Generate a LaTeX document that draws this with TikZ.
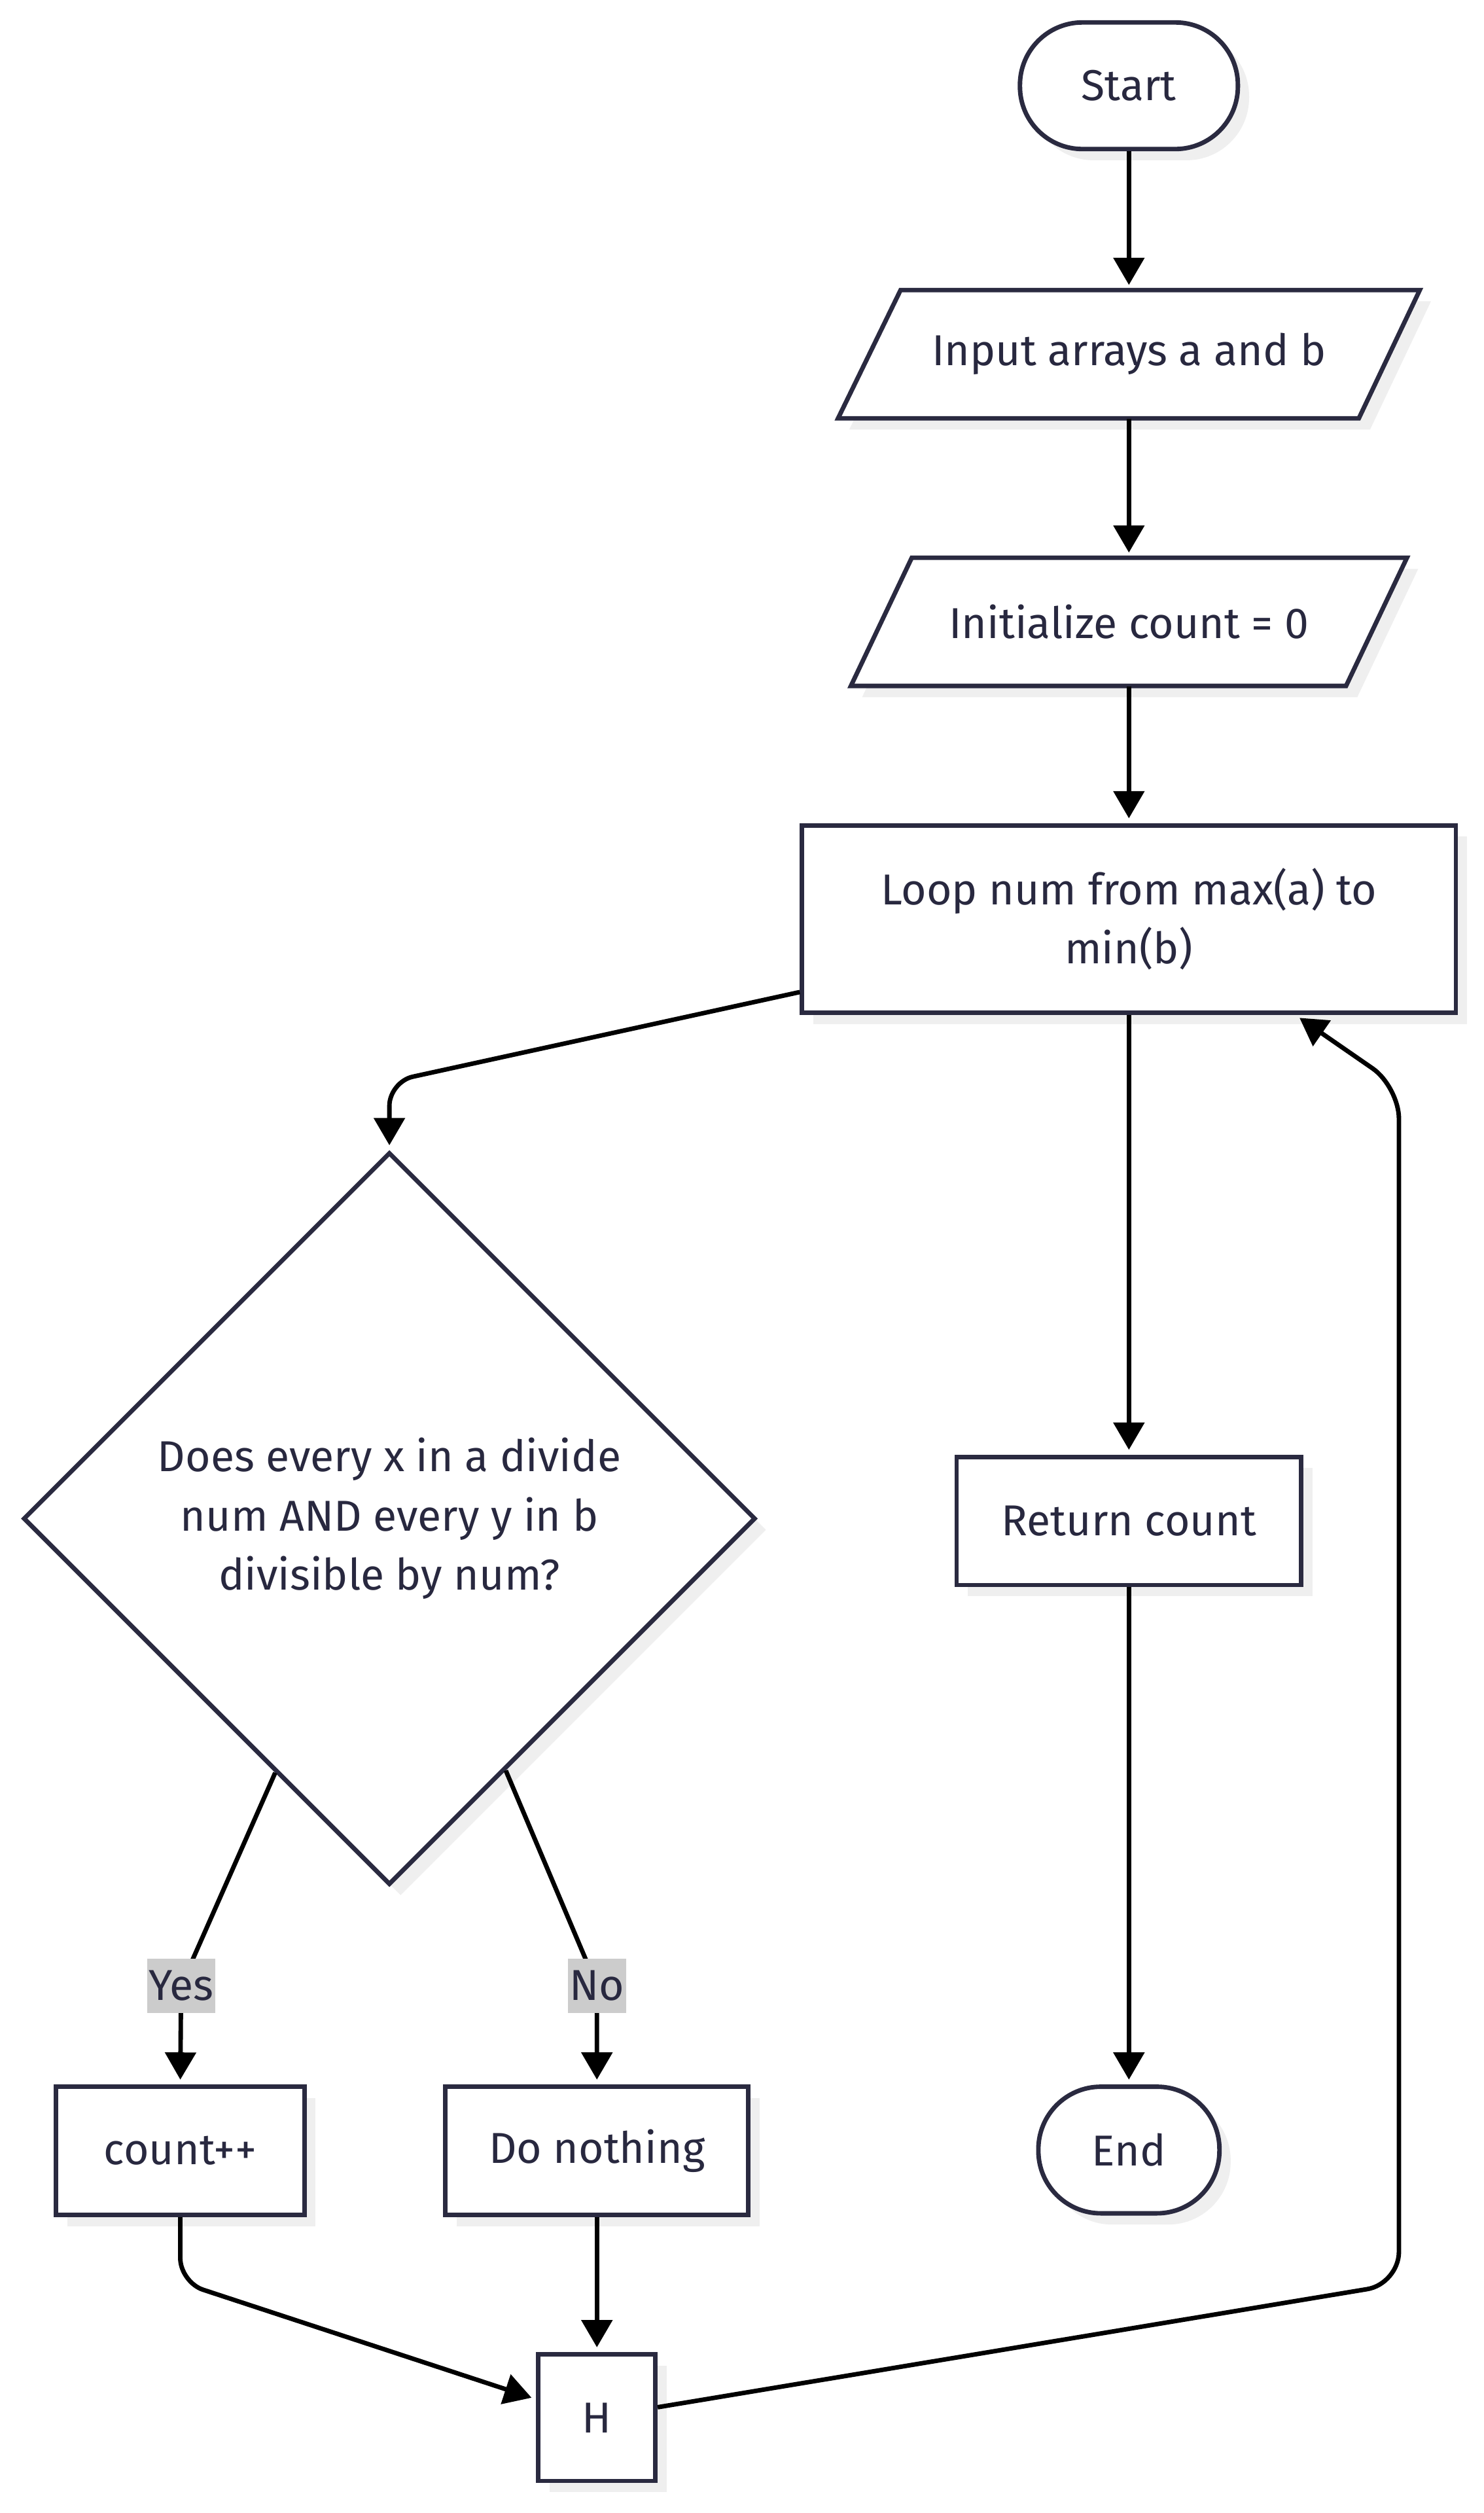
\documentclass[tikz,border=0pt]{standalone}
\usepackage{fontspec}
\setmainfont{Fira Sans}
\usetikzlibrary{arrows.meta,shadows,calc,shapes.geometric}
\definecolor{bord}{HTML}{2A2A40}
\definecolor{txt}{HTML}{28283F}
\definecolor{shad}{HTML}{EFEFEF}
\definecolor{lblgray}{HTML}{CCCCCC}
\begin{document}
\begin{tikzpicture}[x=1pt,y=-1pt,
  font=\fontsize{27}{37}\selectfont, text=txt,
  shadowed/.style={drop shadow={shadow xshift=7pt,shadow yshift=-7pt,fill=shad,opacity=1}},
  box/.style={draw=bord,line width=2.8pt,fill=white,inner sep=0pt,align=center,shadowed},
  term/.style={box,rounded corners=39pt,minimum height=79pt},
  para/.style={draw=bord,line width=2.8pt,fill=white,line join=miter},
  txtnode/.style={inner sep=0pt,align=center},
  arr/.style={draw=black,line width=2.8pt,-{Triangle[length=17pt,width=19pt]},shorten >=3pt},
  lbl/.style={fill=lblgray,sharp corners,inner xsep=1pt,inner ysep=0pt,minimum height=34pt,text=txt}
]
\useasboundingbox (0,0) rectangle (925.7,1568);
\fill[white] (0,0) rectangle (925.7,1568);

% Start
\node[term,minimum width=136pt] (start) at (704.5,53.5) {Start};

% Input parallelogram
\fill[shad,shift={(7,7)}] (523,261)--(562,181)--(886,181)--(848,261)--cycle;
\draw[para] (523,261)--(562,181)--(886,181)--(848,261)--cycle;
\node[txtnode,minimum width=300pt,minimum height=80pt] (inp) at (704.5,221) {Input arrays a and b};

% Initialize parallelogram
\fill[shad,shift={(7,7)}] (531,428)--(569,348)--(878,348)--(840,428)--cycle;
\draw[para] (531,428)--(569,348)--(878,348)--(840,428)--cycle;
\node[txtnode,minimum width=290pt,minimum height=80pt] (init) at (704.5,388) {Initialize count = 0};

% Loop
\node[box,minimum width=408pt,minimum height=117pt] (loop) at (704.5,573.5) {Loop num from max(a) to\\min(b)};

% Decision
\node[box,diamond,aspect=1,minimum width=457pt,minimum height=457pt] (dia) at (243,947.5)
  {Does every x in a divide\\num AND every y in b\\divisible by num?};

% Return
\node[box,minimum width=215pt,minimum height=80pt] (ret) at (704.5,949) {Return count};
% End
\node[term,minimum width=113pt] (endn) at (704.5,1341.5) {End};
% count++
\node[box,minimum width=155pt,minimum height=80pt] (cnt) at (112.5,1342) {count++};
% Do nothing
\node[box,minimum width=189pt,minimum height=80pt] (nothing) at (372.5,1342) {Do nothing};
% H
\node[box,minimum width=73pt,minimum height=79pt] (H) at (372.5,1508.5) {H};

% connectors
\draw[arr] (start) -- (inp);
\draw[arr] (inp) -- (init);
\draw[arr] (init) -- (loop);
\draw[arr,rounded corners=15pt] ($(loop.west)+(0,45.5)$) -- (243,675) -- (dia.north);
\draw[arr] (loop) -- (ret);
\draw[arr] (ret) -- (endn);
\draw[arr,rounded corners=8pt] ($(dia.west)!0.69!(dia.south)$) -- (113,1239) node[lbl,minimum width=42pt] (yes) {Yes} -- (cnt.north);
\draw[arr,rounded corners=8pt] ($(dia.south)!0.316!(dia.east)$) -- (372.5,1239) node[lbl,minimum width=32pt] (no) {No} -- (nothing.north);
\draw[arr,rounded corners=15pt] (cnt.south) -- (112.5,1424) -- ($(H.west)+(0,-11.5)$);
\draw[arr] (nothing) -- (H);
\draw[arr,rounded corners=20pt] ($(H.east)+(0,-6.5)$) -- (873,1425) -- (873,678) -- ($(loop.south)+(104,0)$);
\end{tikzpicture}
\end{document}
